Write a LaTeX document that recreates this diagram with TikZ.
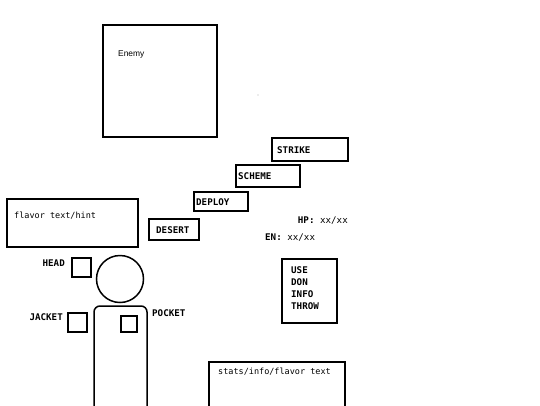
\documentclass[tikz,border=0pt]{standalone}
\usepackage{fontspec}
\newfontfamily\monofont{DejaVu Sans Mono}
\newfontfamily\sansfont{Liberation Sans}
\begin{document}
\begin{tikzpicture}[x=1pt,y=-1pt,
  frame/.style={draw=black,line width=2pt,fill=none},
  captext/.style={font=\monofont\bfseries\fontsize{9.2}{10}\selectfont,inner sep=0pt,anchor=west},
  lowtext/.style={font=\monofont\fontsize{8.5}{10}\selectfont,inner sep=0pt,anchor=west}]
\clip (0,0) rectangle (540,405);
\fill[white] (0,0) rectangle (540,405);
% enemy
\draw[frame] (103,25) rectangle (217,137);
\node[font=\sansfont\fontsize{8.4}{9}\selectfont,inner sep=0pt,anchor=west] (enemy) at (118,54) {Enemy};
\fill[gray!60] (258,95) circle (0.6);
% action boxes
\draw[frame] (272,138) rectangle (348,161);
\node[captext] (strike) at (277,150) {STRIKE};
\draw[frame] (236,165) rectangle (300,187);
\node[captext] (scheme) at (238,176) {SCHEME};
\draw[frame] (194,192) rectangle (248,211);
\node[captext] (deploy) at (196,202) {DEPLOY};
\draw[frame] (149,219) rectangle (199,240);
\node[captext] (desert) at (156,230) {DESERT};
% stats
\node[captext,anchor=east] (hp) at (348,221) {HP: \mdseries xx/xx};
\node[captext] (en) at (265,238) {EN: \mdseries xx/xx};
% flavor text
\draw[frame] (7,199) rectangle (138,247);
\node[lowtext] (flavor) at (14,216) {flavor text/hint};
% figure
\draw[line width=1.5pt] (120,279) circle (23.5);
\draw[line width=1.5pt,rounded corners=6pt] (94,420) -- (94,306) -- (147,306) -- (147,420);
\draw[frame] (72,258) rectangle (91,277);
\node[captext,anchor=east] (head) at (65,263) {HEAD};
\draw[frame] (68,313) rectangle (87,332);
\node[captext,anchor=east] (jacket) at (63,317) {JACKET};
\draw[frame] (121,316) rectangle (137,332);
\node[captext] (pocket) at (152,313) {POCKET};
% menu
\draw[frame] (282,259) rectangle (337,323);
\node[captext,align=left,anchor=north west,font=\monofont\bfseries\fontsize{9.2}{12}\selectfont] (menu) at (291,266) {USE\\DON\\INFO\\THROW};
% bottom stats box
\draw[frame] (209,362) rectangle (345,420);
\node[lowtext] (stats) at (218,372) {stats/info/flavor text};
\end{tikzpicture}
\end{document}
